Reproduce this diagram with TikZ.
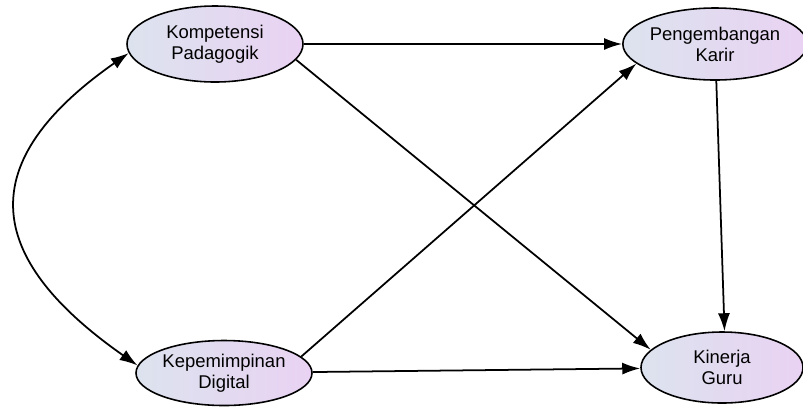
\documentclass[tikz,border=0pt]{standalone}
\usepackage{fontspec}
\setmainfont{Liberation Sans}
\usepackage{tikz}
\usetikzlibrary{arrows.meta,positioning,shapes.geometric}
\definecolor{constructleft}{RGB}{220,227,238}
\definecolor{constructright}{RGB}{233,210,243}

\begin{document}
\begin{tikzpicture}[
		auto,
		node distance=10cm,
		>={Latex[length=3.6mm,width=2.4mm]},
		font=\fontsize{10.5}{12}\selectfont,
		construct/.style={
			ellipse,
			draw=black,
			line width=0.9pt,
			inner sep=0pt,
			align=center,
			left color=constructleft,
			right color=constructright
		},
		link/.style={
			->,
			line width=1pt
		}
		]
		\useasboundingbox (0,0) rectangle (16.06,-8.16);
		% We start by placing the constructs
		
		\node [construct, minimum width=3.52cm, minimum height=1.52cm] (kp) at (4.30,-0.88)
		{Kompetensi\\Padagogik};
		
		\node [construct, right of=kp, minimum width=3.5cm, minimum height=1.44cm] (pk)
		{Pengembangan\\Karir};
		
		\node [construct, below of=kp, node distance=6.58cm, xshift=0.18cm, minimum width=3.52cm, minimum height=1.3cm] (kd)
		{Kepemimpinan\\Digital};
		
		\node [construct, below of=pk, node distance=6.47cm, xshift=0.14cm, minimum width=3.24cm, minimum height=1.42cm] (kg)
		{Kinerja\\Guru};
		
		\draw [link] (kp) -- (pk);
		\draw [link] (kp.-11) -- (kg.166);
		\draw [link] (kd.12) -- (pk.194);
		\draw [link] (kd) -- (kg);
		\draw [link] (pk.-88) -- (kg.86);
		\draw [link, <->] (kp.186) to [out=215, in=145, looseness=1.55] (kd.175);
		
		\end{tikzpicture}
\end{document}
